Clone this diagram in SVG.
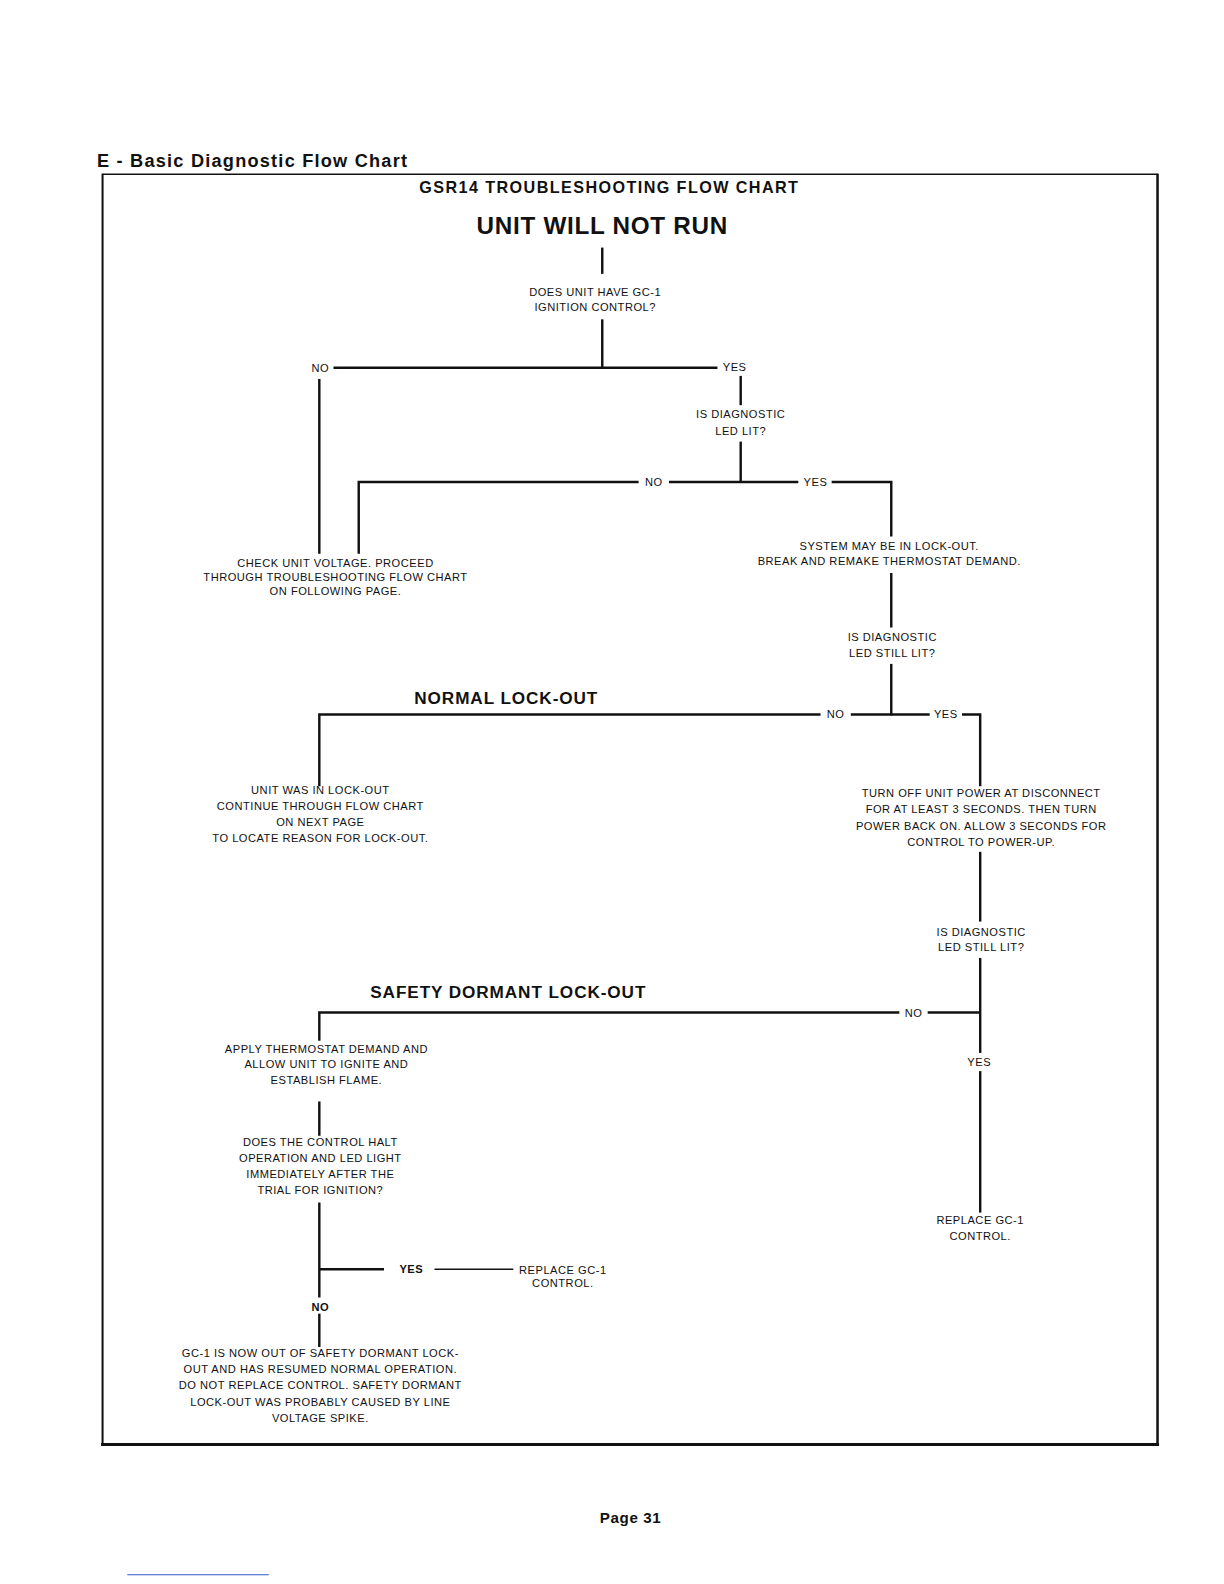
<svg xmlns="http://www.w3.org/2000/svg" width="1224" height="1584" viewBox="0 0 1224 1584">
<style>
.t{font-family:"Liberation Sans",Arial,sans-serif;font-size:11px;fill:#111;text-anchor:middle;letter-spacing:0.5px}
.h{font-family:"Liberation Sans",Arial,sans-serif;font-weight:bold;fill:#111;text-anchor:middle}
.c line,.c polyline{stroke:#111;stroke-width:2.4;fill:none}
</style>
<rect width="1224" height="1584" fill="#fff"/>
<g transform="scale(1.0105)">
<text x="96" y="165" font-family="Liberation Sans,Arial,sans-serif" font-weight="bold" font-size="18" letter-spacing="1.2" fill="#111">E - Basic Diagnostic Flow Chart</text>
<g id="frame" fill="none" stroke="#111">
<line x1="101" y1="172.5" x2="1146" y2="172.5" stroke-width="1.5"/>
<line x1="101.5" y1="172" x2="101.5" y2="1431" stroke-width="2"/>
<line x1="1145.5" y1="172" x2="1145.5" y2="1431" stroke-width="2.5"/>
<line x1="100" y1="1429.5" x2="1147" y2="1429.5" stroke-width="3"/>
</g>
<text class="h" x="603" y="191" font-size="16" letter-spacing="1.4">GSR14 TROUBLESHOOTING FLOW CHART</text>
<text class="h" x="596" y="232" font-size="24" letter-spacing="0.7">UNIT WILL NOT RUN</text>

<g class="c" id="connectors">
<line x1="596" y1="245" x2="596" y2="271"/>
<line x1="596" y1="316" x2="596" y2="365"/>
<line x1="330" y1="364" x2="710" y2="364"/>
<line x1="316" y1="375" x2="316" y2="548"/>
<line x1="733" y1="372" x2="733" y2="401"/>
<line x1="733" y1="437" x2="733" y2="478"/>
<polyline points="355,548 355,477 632,477"/>
<line x1="662" y1="477" x2="790" y2="477"/>
<polyline points="823,477 882,477 882,531"/>
<line x1="882" y1="567" x2="882" y2="621"/>
<line x1="882" y1="657" x2="882" y2="708"/>
<polyline points="316,778 316,707 812,707"/>
<line x1="842" y1="707" x2="920" y2="707"/>
<polyline points="952,707 970,707 970,778"/>
<line x1="970" y1="843" x2="970" y2="912"/>
<line x1="970" y1="948" x2="970" y2="1042"/>
<polyline points="316,1030 316,1002 890,1002"/>
<line x1="918" y1="1002" x2="970" y2="1002"/>
<line x1="970" y1="1060" x2="970" y2="1200"/>
<line x1="316" y1="1090" x2="316" y2="1124"/>
<line x1="316" y1="1190" x2="316" y2="1284"/>
<line x1="316" y1="1256" x2="380" y2="1256"/>
<line x1="430" y1="1256" x2="508" y2="1256" style="stroke-width:1.6"/>
<line x1="316" y1="1300" x2="316" y2="1333"/>
</g>

<g id="n1"><text class="t" x="589" y="293">DOES UNIT HAVE GC-1</text><text class="t" x="589" y="308">IGNITION CONTROL?</text></g>
<g id="l1"><text class="t" x="317" y="368">NO</text><text class="t" x="727" y="367">YES</text></g>
<g id="n2"><text class="t" x="733" y="414">IS DIAGNOSTIC</text><text class="t" x="733" y="430">LED LIT?</text></g>
<g id="l2"><text class="t" x="647" y="481">NO</text><text class="t" x="807" y="481">YES</text></g>
<g id="n3"><text class="t" x="332" y="561">CHECK UNIT VOLTAGE. PROCEED</text><text class="t" x="332" y="575">THROUGH TROUBLESHOOTING FLOW CHART</text><text class="t" x="332" y="589">ON FOLLOWING PAGE.</text></g>
<g id="n4"><text class="t" x="880" y="544">SYSTEM MAY BE IN LOCK-OUT.</text><text class="t" x="880" y="559">BREAK AND REMAKE THERMOSTAT DEMAND.</text></g>
<g id="n5"><text class="t" x="883" y="634">IS DIAGNOSTIC</text><text class="t" x="883" y="650">LED STILL LIT?</text></g>
<text class="h" x="501" y="697" font-size="17" letter-spacing="0.9">NORMAL LOCK-OUT</text>
<g id="l3"><text class="t" x="827" y="711">NO</text><text class="t" x="936" y="711">YES</text></g>
<g id="n6"><text class="t" x="317" y="786">UNIT WAS IN LOCK-OUT</text><text class="t" x="317" y="802">CONTINUE THROUGH FLOW CHART</text><text class="t" x="317" y="817">ON NEXT PAGE</text><text class="t" x="317" y="833">TO LOCATE REASON FOR LOCK-OUT.</text></g>
<g id="n7"><text class="t" x="971" y="789">TURN OFF UNIT POWER AT DISCONNECT</text><text class="t" x="971" y="805">FOR AT LEAST 3 SECONDS. THEN TURN</text><text class="t" x="971" y="821">POWER BACK ON. ALLOW 3 SECONDS FOR</text><text class="t" x="971" y="837">CONTROL TO POWER-UP.</text></g>
<g id="n8"><text class="t" x="971" y="926">IS DIAGNOSTIC</text><text class="t" x="971" y="941">LED STILL LIT?</text></g>
<text class="h" x="503" y="988" font-size="17" letter-spacing="0.9">SAFETY DORMANT LOCK-OUT</text>
<g id="l4"><text class="t" x="904" y="1006">NO</text><text class="t" x="969" y="1055">YES</text></g>
<g id="n9"><text class="t" x="970" y="1211">REPLACE GC-1</text><text class="t" x="970" y="1227">CONTROL.</text></g>
<g id="n10"><text class="t" x="323" y="1042">APPLY THERMOSTAT DEMAND AND</text><text class="t" x="323" y="1057">ALLOW UNIT TO IGNITE AND</text><text class="t" x="323" y="1073">ESTABLISH FLAME.</text></g>
<g id="n11"><text class="t" x="317" y="1134">DOES THE CONTROL HALT</text><text class="t" x="317" y="1150">OPERATION AND LED LIGHT</text><text class="t" x="317" y="1166">IMMEDIATELY AFTER THE</text><text class="t" x="317" y="1182">TRIAL FOR IGNITION?</text></g>
<g id="l5"><text class="t" x="407" y="1260" font-weight="bold">YES</text><text class="t" x="317" y="1297" font-weight="bold">NO</text></g>
<g id="n12"><text class="t" x="557" y="1261">REPLACE GC-1</text><text class="t" x="557" y="1274">CONTROL.</text></g>
<g id="n13"><text class="t" x="317" y="1343">GC-1 IS NOW OUT OF SAFETY DORMANT LOCK-</text><text class="t" x="317" y="1359">OUT AND HAS RESUMED NORMAL OPERATION.</text><text class="t" x="317" y="1375">DO NOT REPLACE CONTROL. SAFETY DORMANT</text><text class="t" x="317" y="1391">LOCK-OUT WAS PROBABLY CAUSED BY LINE</text><text class="t" x="317" y="1407">VOLTAGE SPIKE.</text></g>
<text class="h" x="624" y="1507" font-size="15" letter-spacing="0.6">Page 31</text>
<line x1="126" y1="1558.5" x2="266" y2="1558.5" stroke="#3355cc" stroke-width="1"/>
</g>
</svg>
